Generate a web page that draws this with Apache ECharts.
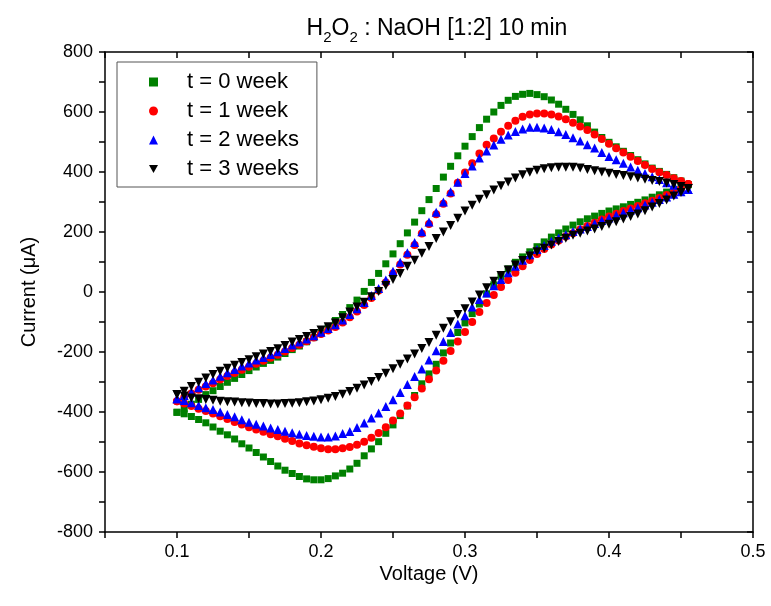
<!DOCTYPE html>
<html style="height: 100%">
<head>
    <meta charset="utf-8">
    <title>H2O2 : NaOH [1:2] 10 min</title>
    <script src="https://cdn.jsdelivr.net/npm/echarts@6/dist/echarts.min.js"></script>
</head>
<body style="height: 100%; margin: 0; background: #fff">
    <div id="container" style="width: 771px; height: 606px"></div>
    <script type="text/javascript">

        // scan voltage (V): one point every 5 mV
        let voltage = [
            0.100, 0.105, 0.110, 0.115, 0.120, 0.125, 0.130, 0.135, 0.140, 0.145,
            0.150, 0.155, 0.160, 0.165, 0.170, 0.175, 0.180, 0.185, 0.190, 0.195,
            0.200, 0.205, 0.210, 0.215, 0.220, 0.225, 0.230, 0.235, 0.240, 0.245,
            0.250, 0.255, 0.260, 0.265, 0.270, 0.275, 0.280, 0.285, 0.290, 0.295,
            0.300, 0.305, 0.310, 0.315, 0.320, 0.325, 0.330, 0.335, 0.340, 0.345,
            0.350, 0.355, 0.360, 0.365, 0.370, 0.375, 0.380, 0.385, 0.390, 0.395,
            0.400, 0.405, 0.410, 0.415, 0.420, 0.425, 0.430, 0.435, 0.440, 0.445,
            0.450, 0.455
        ]

        let seriesNames = ['t = 0 week', 't = 1 week', 't = 2 weeks', 't = 3 weeks']

        // current (uA), anodic (upper) branch and cathodic (lower) branch
        let week0Fwd = [
            -401, -388, -374, -358, -342, -329, -315, -301, -288, -275,
            -262, -250, -238, -228, -217, -205, -192, -180, -166, -152,
            -136, -116, -95, -75, -52, -27, 2, 32, 62, 94,
            127, 161, 197, 233, 271, 308, 345, 383, 419, 454,
            486, 518, 548, 576, 600, 622, 639, 652, 659, 662,
            658, 651, 640, 626, 609, 592, 574, 554, 533, 515,
            499, 484, 469, 455, 441, 427, 413, 402, 392, 381,
            370, 358
        ]
        let week0Rev = [
            -401, -406, -415, -425, -436, -450, -464, -476, -490, -506,
            -520, -535, -550, -565, -580, -594, -605, -615, -623, -626,
            -626, -622, -613, -604, -590, -571, -546, -523, -499, -471,
            -443, -412, -380, -345, -306, -273, -241, -203, -170, -135,
            -103, -72, -40, -6, 24, 52, 77, 99, 117, 134,
            151, 167, 183, 197, 210, 223, 234, 244, 253, 262,
            270, 277, 284, 292, 299, 307, 316, 324, 333, 342,
            350, 358
        ]
        let week1Fwd = [
            -364, -352, -338, -326, -315, -304, -292, -280, -270, -259,
            -249, -239, -229, -219, -209, -198, -187, -176, -164, -152,
            -140, -128, -117, -102, -84, -65, -43, -20, 5, 32,
            62, 92, 124, 157, 195, 227, 259, 294, 328, 364,
            398, 429, 462, 491, 512, 534, 554, 571, 584, 592,
            595, 595, 592, 585, 576, 564, 552, 540, 525, 510,
            494, 479, 465, 451, 437, 423, 410, 399, 390, 379,
            370, 360
        ]
        let week1Rev = [
            -364, -372, -380, -389, -397, -405, -414, -423, -433, -442,
            -451, -458, -466, -474, -481, -489, -497, -505, -511, -516,
            -521, -524, -524, -521, -517, -509, -499, -486, -470, -451,
            -428, -405, -378, -351, -322, -291, -262, -229, -197, -165,
            -133, -100, -67, -37, -10, 17, 40, 64, 86, 107,
            127, 143, 158, 172, 185, 196, 208, 220, 231, 242,
            252, 261, 270, 278, 287, 296, 304, 313, 323, 332,
            343, 360
        ]
        let week2Fwd = [
            -356, -345, -334, -319, -305, -293, -281, -269, -258, -247,
            -237, -227, -218, -208, -199, -188, -177, -167, -157, -146,
            -134, -122, -109, -93, -75, -56, -35, -12, 12, 40,
            69, 99, 131, 165, 201, 233, 266, 300, 334, 366,
            395, 420, 447, 470, 490, 509, 523, 535, 543, 549,
            549, 547, 542, 534, 525, 514, 503, 491, 480, 465,
            452, 441, 429, 417, 406, 395, 384, 375, 364, 356,
            346, 342
        ]
        let week2Rev = [
            -356, -362, -369, -378, -386, -392, -400, -408, -416, -426,
            -434, -441, -447, -453, -458, -464, -469, -474, -478, -481,
            -483, -483, -480, -472, -465, -452, -437, -420, -403, -382,
            -359, -335, -308, -282, -257, -227, -196, -165, -135, -107,
            -79, -50, -25, -3, 21, 42, 64, 86, 106, 124,
            142, 155, 169, 180, 191, 202, 210, 218, 228, 238,
            247, 256, 264, 273, 281, 290, 299, 308, 317, 326,
            334, 342
        ]
        let week3Fwd = [
            -342, -331, -315, -301, -287, -275, -264, -254, -244, -235,
            -226, -216, -207, -198, -189, -178, -167, -158, -148, -138,
            -127, -116, -103, -86, -67, -50, -34, -16, 2, 22,
            42, 62, 86, 106, 129, 152, 178, 200, 222, 246,
            270, 289, 309, 324, 340, 354, 367, 380, 391, 399,
            406, 411, 414, 416, 416, 416, 413, 408, 404, 400,
            396, 392, 388, 384, 380, 376, 372, 368, 363, 358,
            352, 345
        ]
        let week3Rev = [
            -342, -347, -353, -356, -358, -361, -364, -366, -367, -369,
            -370, -372, -372, -373, -373, -372, -371, -369, -366, -363,
            -359, -354, -348, -341, -332, -321, -310, -298, -285, -271,
            -256, -241, -223, -207, -188, -168, -144, -121, -99, -75,
            -56, -33, -10, 14, 36, 55, 73, 90, 105, 120,
            134, 146, 157, 168, 179, 189, 196, 203, 210, 218,
            226, 234, 243, 252, 260, 271, 283, 295, 307, 320,
            332, 345
        ]

        // one closed loop: forward sweep up, then reverse sweep back down
        function loop(fwd, rev) {
            let pts = []
            for (let i = 0; i < voltage.length; i++) pts.push([voltage[i], fwd[i]])
            for (let i = voltage.length - 1; i >= 0; i--) pts.push([voltage[i], rev[i]])
            return pts
        }

        let font = 'Arial, "Liberation Sans", sans-serif'

        let styles = [
            { color: '#008000', symbol: 'rect', size: 7 },
            { color: '#ff0000', symbol: 'circle', size: 8 },
            { color: '#0000ff', symbol: 'triangle', size: 9 },
            { color: '#000000', symbol: 'path://M0,0L10,0L5,9Z', size: 9 }
        ]
        let loops = [
            loop(week0Fwd, week0Rev),
            loop(week1Fwd, week1Rev),
            loop(week2Fwd, week2Rev),
            loop(week3Fwd, week3Rev)
        ]

        let series = seriesNames.map((name, i) => ({
            name: name,
            type: 'scatter',
            data: loops[i],
            symbol: styles[i].symbol,
            symbolSize: styles[i].size,
            itemStyle: { color: styles[i].color, opacity: 1 },
            emphasis: { disabled: true },
            animation: false
        }))

        let axisLine = { show: true, onZero: false, lineStyle: { color: '#000', width: 1.5 } }
        let tickOut = { show: true, inside: false, length: 6, lineStyle: { color: '#000', width: 1.5 } }
        let tickIn = { show: true, inside: true, length: 6, lineStyle: { color: '#000', width: 1.5 } }

        let chart = echarts.init(document.getElementById('container'))
        chart.setOption({
            backgroundColor: '#fff',
            animation: false,
            title: {
                text: '{n|H}{s|2}{n|O}{s|2}{n| : NaOH [1:2] 10 min}',
                left: 432,
                textAlign: 'center',
                top: 8,
                textStyle: {
                    fontWeight: 'normal',
                    rich: {
                        n: { fontFamily: font, fontSize: 23, fontWeight: 'normal', color: '#000', lineHeight: 32, verticalAlign: 'middle' },
                        s: { fontFamily: font, fontSize: 15, fontWeight: 'normal', color: '#000', lineHeight: 32, verticalAlign: 'bottom' }
                    }
                }
            },
            legend: {
                orient: 'vertical',
                left: 117,
                top: 62,
                padding: [8, 18, 6, 32],
                itemGap: 5,
                itemWidth: 9,
                itemHeight: 9,
                borderColor: '#555',
                borderWidth: 1,
                borderRadius: 0,
                textStyle: { fontFamily: font, fontSize: 22, lineHeight: 24, color: '#000', padding: [0, 0, 0, 24] },
                data: seriesNames
            },
            grid: { left: 105, right: 18, top: 52, bottom: 74 },
            xAxis: [
                {
                    type: 'value',
                    min: 0.05,
                    max: 0.5,
                    interval: 0.05,
                    name: 'Voltage (V)',
                    nameLocation: 'middle',
                    nameGap: 32,
                    nameMoveOverlap: false,
                    nameTextStyle: { fontFamily: font, fontSize: 20, color: '#000' },
                    axisLine: axisLine,
                    axisTick: tickOut,
                    axisLabel: {
                        margin: 11,
                        fontFamily: font,
                        fontSize: 18,
                        color: '#000',
                        formatter: v => (Math.round(v * 100) % 10 === 0 ? v.toFixed(1) : '')
                    },
                    splitLine: { show: false }
                },
                {
                    type: 'value',
                    position: 'top',
                    min: 0.05,
                    max: 0.5,
                    interval: 0.05,
                    axisLine: axisLine,
                    axisTick: tickIn,
                    axisLabel: { show: false },
                    splitLine: { show: false }
                }
            ],
            yAxis: [
                {
                    type: 'value',
                    min: -800,
                    max: 800,
                    interval: 100,
                    name: 'Current (\u03bcA)',
                    nameLocation: 'middle',
                    nameGap: 66,
                    nameMoveOverlap: false,
                    nameTextStyle: { fontFamily: font, fontSize: 20, color: '#000' },
                    axisLine: axisLine,
                    axisTick: tickOut,
                    axisLabel: {
                        margin: 12,
                        fontFamily: font,
                        fontSize: 18,
                        color: '#000',
                        formatter: v => (Math.round(v) % 200 === 0 ? String(v) : '')
                    },
                    splitLine: { show: false }
                },
                {
                    type: 'value',
                    position: 'right',
                    min: -800,
                    max: 800,
                    interval: 100,
                    axisLine: axisLine,
                    axisTick: tickIn,
                    axisLabel: { show: false },
                    splitLine: { show: false }
                }
            ],
            series: series
        })

    </script>
</body>
</html>
